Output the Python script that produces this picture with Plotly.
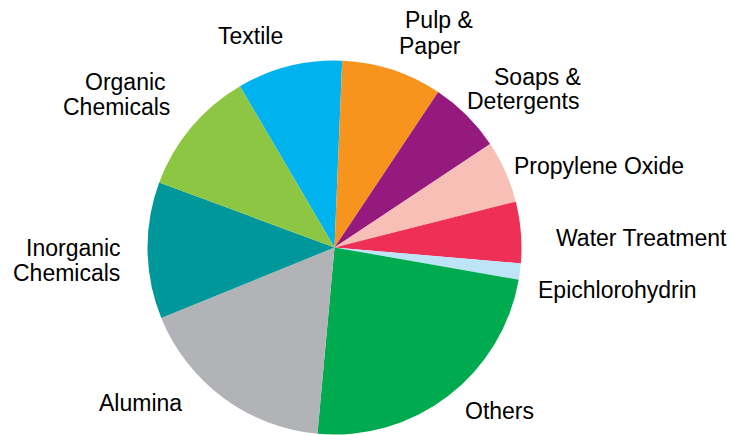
import plotly.graph_objects as go

# Share of demand by end use (%), clockwise from Textile
categories = [
    "Textile", "Pulp &\nPaper", "Soaps &\nDetergents", "Propylene  Oxide",
    "Water Treatment", "Epichlorohydrin", "Others", "Alumina",
    "Inorganic\nChemicals", "Organic\nChemicals",
]
shares = [9.1, 8.7, 6.3, 5.4, 5.3, 1.4, 23.7, 17.4, 11.8, 10.9]
colors = [
    "#00B3EF", "#F7941E", "#951A7E", "#F8BFB7", "#EE3056",
    "#BDE4F7", "#00AA4F", "#B1B3B6", "#00979A", "#8DC642",
]

W, H = 731, 435
cx, cy, r = 334.5, 247.5, 187.0

fig = go.Figure(
    go.Pie(
        labels=[c.replace("\n", " ") for c in categories],
        values=shares,
        sort=False,
        direction="clockwise",
        rotation=-30.4,
        marker=dict(colors=colors, line=dict(width=0)),
        textinfo="none",
        hoverinfo="label+percent",
        showlegend=False,
        domain=dict(
            x=[(cx - r) / W, (cx + r) / W],
            y=[(H - cy - r) / H, (H - cy + r) / H],
        ),
    )
)

# Label line placement in pixels: (x, y of cap centre, anchor) per line
placement = {
    "Textile": [(250.5, 36, "center")],
    "Pulp &\nPaper": [(439, 20, "center"), (430, 46.5, "center")],
    "Soaps &\nDetergents": [(583, 76.7, "right"), (582, 101, "right")],
    "Propylene  Oxide": [(512, 166.3, "left")],
    "Water Treatment": [(554, 238, "left")],
    "Epichlorohydrin": [(536, 290, "left")],
    "Others": [(499, 411, "center")],
    "Alumina": [(140.5, 402.5, "center")],
    "Inorganic\nChemicals": [(123, 248.3, "right"), (122, 273.3, "right")],
    "Organic\nChemicals": [(168, 81.7, "right"), (172, 106.7, "right")],
}

annotations = []
for cat in categories:
    for line, (px, py, anchor) in zip(cat.split("\n"), placement[cat]):
        annotations.append(dict(
            text=line.replace("  ", "&nbsp;"),
            x=px / W, y=1 - py / H,
            xref="paper", yref="paper",
            xanchor=anchor, yanchor="middle",
            showarrow=False,
            font=dict(family="Liberation Sans, Arial, sans-serif", size=23, color="#000000"),
        ))

fig.update_layout(
    width=W, height=H,
    margin=dict(l=0, r=0, t=0, b=0),
    paper_bgcolor="white",
    plot_bgcolor="white",
    annotations=annotations,
)

fig.write_html("out.html")
